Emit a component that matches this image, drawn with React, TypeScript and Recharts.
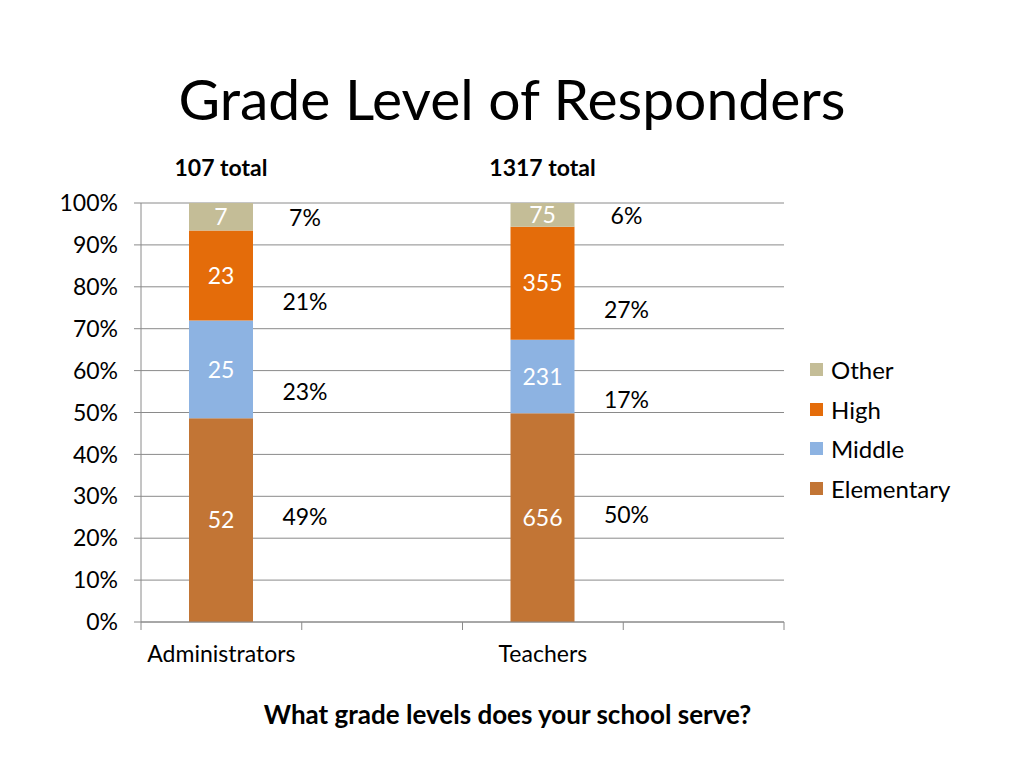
import { BarChart, Bar, XAxis, YAxis, CartesianGrid, Legend, LabelList } from "recharts";

const groups = ["Administrators", "", "Teachers", ""];
const totals = ["107 total", null, "1317 total", null];

const elementary = [52, null, 656, null];
const middle = [25, null, 231, null];
const high = [23, null, 355, null];
const other = [7, null, 75, null];

const elementaryPct = ["49%", null, "50%", null];
const middlePct = ["23%", null, "17%", null];
const highPct = ["21%", null, "27%", null];
const otherPct = ["7%", null, "6%", null];

const yTicks = [0, 0.1, 0.2, 0.3, 0.4, 0.5, 0.6, 0.7, 0.8, 0.9, 1];

const FONT = "Lato, 'Open Sans', sans-serif";
const GRID = "#8a8a8a";

const data = groups.map((g, i) => ({
  group: g,
  total: totals[i],
  Elementary: elementary[i],
  Middle: middle[i],
  High: high[i],
  Other: other[i],
  elementaryPct: elementaryPct[i],
  middlePct: middlePct[i],
  highPct: highPct[i],
  otherPct: otherPct[i],
}));

// bottom to top
const series = [
  { key: "Elementary", pct: "elementaryPct", color: "#C27535", dy: -3 },
  { key: "Middle", pct: "middlePct", color: "#8DB3E2", dy: 23 },
  { key: "High", pct: "highPct", color: "#E46C0A", dy: 27 },
  { key: "Other", pct: "otherPct", color: "#C4BD97", dy: 1 },
];

const pctLabel = (dy: number) => (props: any) => {
  const { x, y, width, height, value } = props;
  if (value == null) return null;
  return (
    <text
      x={x + width + 52}
      y={y + height / 2 + dy}
      dy={8}
      textAnchor="middle"
      fontSize={23}
      fontFamily={FONT}
      fill="#000"
    >
      {value}
    </text>
  );
};

const totalLabel = (props: any) => {
  const { x, y, width, value } = props;
  if (value == null) return null;
  return (
    <text x={x + width / 2} y={y - 27} textAnchor="middle" fontSize={23} fontWeight="bold" fontFamily={FONT} fill="#000">
      {value}
    </text>
  );
};

const GroupTick = (props: any) => {
  const { x, y, payload, index, visibleTicksCount } = props;
  const half = payload.offset || 80;
  return (
    <g>
      <line x1={x - half} x2={x - half} y1={y - 8} y2={y} stroke={GRID} />
      {index === visibleTicksCount - 1 && <line x1={x + half} x2={x + half} y1={y - 8} y2={y} stroke={GRID} />}
      <text x={x} y={y} dy={32} textAnchor="middle" fontSize={23} fontFamily={FONT} fill="#000">
        {payload.value}
      </text>
    </g>
  );
};

const AxisTitle = (props: any) => {
  const { viewBox } = props;
  const { x, y, width, height } = viewBox;
  return (
    <text x={x + width / 2 + 45} y={y + height - 8} textAnchor="middle" fontSize={26} fontWeight="bold" fontFamily={FONT} fill="#000">
      What grade levels does your school serve?
    </text>
  );
};

const LegendBox = () => (
  <div style={{ fontFamily: FONT, fontSize: 24, paddingLeft: 10 }}>
    {[...series].reverse().map((s) => (
      <div key={s.key} style={{ display: "flex", alignItems: "center", height: 39.5 }}>
        <span style={{ width: 13, height: 13, background: s.color, display: "inline-block", marginRight: 8 }} />
        <span>{s.key}</span>
      </div>
    ))}
  </div>
);

export default function App() {
  return (
    <div style={{ position: "absolute", left: 0, top: 0, width: 1024, height: 768, background: "#fff", fontFamily: FONT }}>
      <div style={{ position: "absolute", top: 64, left: 0, width: 1024, textAlign: "center", fontSize: 57, lineHeight: "68px", color: "#000" }}>
        Grade Level of Responders
      </div>
      <BarChart
        width={1024}
        height={768}
        data={data}
        stackOffset="expand"
        barSize={64}
        margin={{ top: 203, right: 40, bottom: 36, left: 41 }}
      >
        <CartesianGrid vertical={false} stroke={GRID} />
        <YAxis
          domain={[0, 1]}
          ticks={yTicks}
          width={100}
          tickFormatter={(v: number) => `${Math.round(v * 100)}%`}
          tick={{ fontSize: 23, fontFamily: FONT, fill: "#000" }}
          tickSize={7}
          tickMargin={16}
          stroke={GRID}
          tickLine={{ stroke: GRID }}
          axisLine={{ stroke: GRID }}
        />
        <XAxis
          dataKey="group"
          height={110}
          tickSize={8}
          tickMargin={0}
          tickLine={false}
          axisLine={{ stroke: GRID }}
          tick={<GroupTick />}
          interval={0}
          label={<AxisTitle />}
        />
        <Legend
          layout="vertical"
          align="right"
          verticalAlign="top"
          width={200}
          wrapperStyle={{ top: 350, left: 800 }}
          content={<LegendBox />}
        />
        {series.map((s) => (
          <Bar key={s.key} dataKey={s.key} stackId="a" fill={s.color} isAnimationActive={false}>
            <LabelList dataKey={s.key} position="center" fill="#fff" fontSize={23} fontFamily={FONT} />
            <LabelList dataKey={s.pct} content={pctLabel(s.dy)} />
            {s.key === "Other" && <LabelList dataKey="total" content={totalLabel} />}
          </Bar>
        ))}
      </BarChart>
    </div>
  );
}
